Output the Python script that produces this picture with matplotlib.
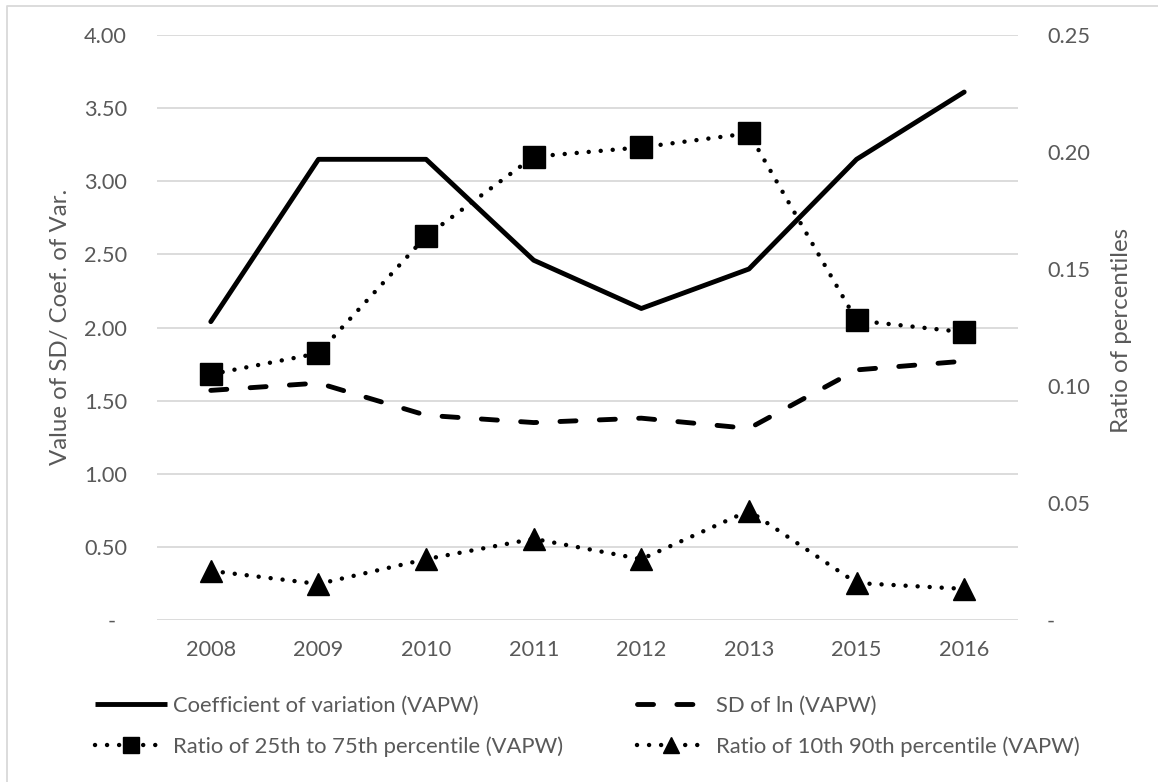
import matplotlib
matplotlib.use("Agg")
import matplotlib.pyplot as plt
from matplotlib.lines import Line2D
import numpy as np

years = ["2008", "2009", "2010", "2011", "2012", "2013", "2015", "2016"]
cv_vapw = [2.04, 3.15, 3.15, 2.46, 2.13, 2.40, 3.15, 3.61]
sd_ln_vapw = [1.57, 1.62, 1.40, 1.35, 1.38, 1.31, 1.71, 1.77]
ratio_25_75 = [0.105, 0.114, 0.164, 0.198, 0.202, 0.208, 0.128, 0.123]
ratio_10_90 = [0.021, 0.0154, 0.026, 0.0347, 0.026, 0.0467, 0.0158, 0.0133]

left_ticks = [0, 0.5, 1.0, 1.5, 2.0, 2.5, 3.0, 3.5, 4.0]
left_labels = ["-  ", "0.50", "1.00", "1.50", "2.00", "2.50", "3.00", "3.50", "4.00"]
right_ticks = [0, 0.05, 0.10, 0.15, 0.20, 0.25]
right_labels = ["-", "0.05", "0.10", "0.15", "0.20", "0.25"]

series_labels = ["Coefficient of variation (VAPW)", "SD of ln (VAPW)",
                 "Ratio of 25th to 75th percentile (VAPW)",
                 "Ratio of 10th 90th percentile (VAPW)"]

plt.rcParams['font.family'] = ['Lato', 'DejaVu Sans']
GRAY = "#595959"
GRID = "#d9d9d9"
W, H = 1158, 782

fig = plt.figure(figsize=(W/100, H/100), dpi=100)
renderer = fig.canvas.get_renderer()


def size_for(text, target_px):
    t = fig.text(0, 0, text, fontsize=10)
    w = t.get_window_extent(renderer).width
    t.remove()
    return 10 * target_px / w


FS_TICK = size_for("4.00", 43)
FS_LABEL = size_for("Value of SD/ Coef. of Var.", 275)
FS_LEG = size_for("Coefficient of variation (VAPW)", 306)

# plot area in pixels
PX0, PX1, PY0, PY1 = 157, 1018, 35, 620
ax = fig.add_axes([PX0/W, 1 - PY1/H, (PX1-PX0)/W, (PY1-PY0)/H])
ax2 = ax.twinx()

x = np.arange(len(years))
LW = 3.5
LW_DOT = 3.2
dot_ls = (0, (0.01, 2.7))
dash_pat = (3.3, 4.8)

l_cv, = ax.plot(x, cv_vapw, color="black", lw=LW, solid_capstyle="round",
                solid_joinstyle="round", zorder=3)
l_sd, = ax.plot(x, sd_ln_vapw, color="black", lw=LW, dashes=dash_pat,
                dash_capstyle="round", dash_joinstyle="round", zorder=3)
l_r25, = ax2.plot(x, ratio_25_75, color="black", lw=LW_DOT, ls=dot_ls,
                  dash_capstyle="round", marker="s", markersize=16.5, zorder=3)
l_r10, = ax2.plot(x, ratio_10_90, color="black", lw=LW_DOT, ls=dot_ls,
                  dash_capstyle="round", marker="^", markersize=15.5, zorder=3)

ax.set_xlim(-0.5, len(years) - 0.5)
ax.set_ylim(0, 4.0)
ax2.set_ylim(0, 0.25)
ax.set_xticks(x)
ax.set_xticklabels(years)
ax.set_yticks(left_ticks)
ax.set_yticklabels(left_labels)
ax2.set_yticks(right_ticks)
ax2.set_yticklabels(right_labels)

for a in (ax, ax2):
    for s in a.spines.values():
        s.set_visible(False)
    a.tick_params(length=0, labelsize=FS_TICK, labelcolor=GRAY)
# pads in points (px * 0.72)
ax.tick_params(axis="y", pad=30 * 0.72)
ax.tick_params(axis="x", pad=20 * 0.72)
ax2.tick_params(axis="y", pad=29 * 0.72)
ax.yaxis.grid(True, color=GRID, lw=1.3)
ax.set_axisbelow(True)
ax.set_zorder(2)
ax2.set_zorder(3)
ax.patch.set_visible(False)

fig.text(61/W, 1 - 327/H, "Value of SD/ Coef. of Var.", rotation=90,
         ha="center", va="center", fontsize=FS_LABEL, color=GRAY)
fig.text(1122/W, 1 - 330/H, "Ratio of percentiles", rotation=90,
         ha="center", va="center", fontsize=FS_LABEL, color=GRAY)

# legend, drawn in figure pixel coordinates
def fy(py):
    return 1 - py / H

legend_items = [
    (95, 167, 173, 704, dict(ls="-", lw=LW, solid_capstyle="butt"), None),
    (637, 705, 716, 704, dict(dashes=dash_pat, lw=LW, dash_capstyle="round"), None),
    (95, 167, 173, 745, dict(ls=dot_ls, lw=LW_DOT, dash_capstyle="round"), "s"),
    (637, 705, 716, 745, dict(ls=dot_ls, lw=LW_DOT, dash_capstyle="round"), "^"),
]
for (hx0, hx1, tx, ty, style, mk), lab in zip(legend_items, series_labels):
    fig.add_artist(Line2D([hx0/W, hx1/W], [fy(ty), fy(ty)], color="black",
                          transform=fig.transFigure, **style))
    if mk is not None:
        fig.add_artist(Line2D([(hx0 + hx1) / 2 / W], [fy(ty)], color="black",
                              marker=mk, markersize=11, ls="none",
                              transform=fig.transFigure))
    fig.text(tx/W, fy(ty), lab, ha="left", va="center_baseline",
             fontsize=FS_LEG, color=GRAY)

# chart area border (top and left visible)
fig.add_artist(Line2D([7/W, 7/W, 1], [0, 1 - 6/H, 1 - 6/H],
                      transform=fig.transFigure, color=GRID, lw=1.3))

fig.savefig("out.png", dpi=100, facecolor="white")
